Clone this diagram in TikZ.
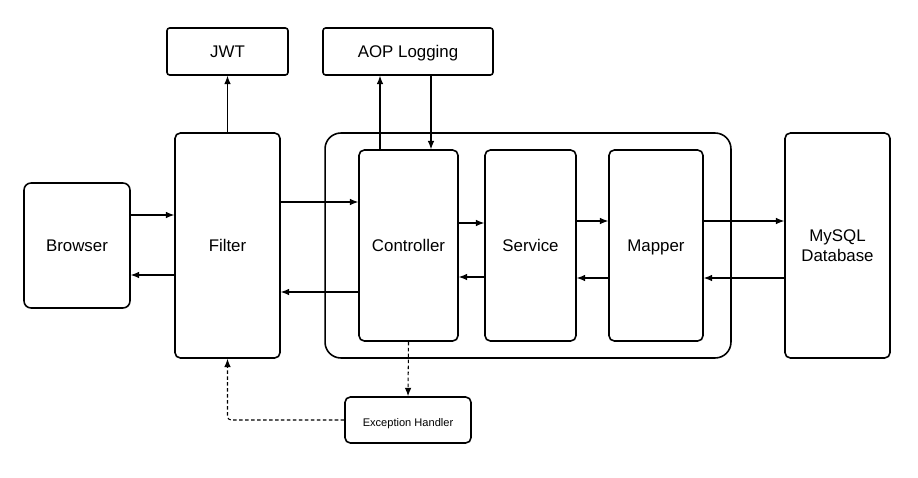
\documentclass[tikz,border=0pt]{standalone}
\usepackage{fontspec}
\setmainfont{Liberation Sans}
\usetikzlibrary{arrows.meta}
\begin{document}
\begin{tikzpicture}[x=0.02cm,y=-0.02cm,
  box/.style={draw,line width=0.9pt,rounded corners=3pt,align=center,inner sep=0pt,
    font=\fontsize{9.6}{11.5}\selectfont},
  oneline/.style={box,text height=0.72em,text depth=0pt},
  flow/.style={-{Latex[length=4.8pt,width=3.8pt]},line width=0.6pt},
  dotflow/.style={flow,dash pattern=on 2pt off 1.4pt}]
\useasboundingbox (0,0) rectangle (918,477);
% outer layer box
\node[draw,line width=0.9pt,rounded corners=9pt,minimum width=8.12cm,minimum height=4.5cm] (layers) at (528,245.5) {};
\node[oneline,minimum width=2.12cm,minimum height=2.5cm,rounded corners=4pt] (browser) at (77,245.5) {Browser};
\node[oneline,minimum width=2.1cm,minimum height=4.5cm] (filter) at (227.5,245.5) {Filter};
\node[oneline,minimum width=2.42cm,minimum height=0.94cm,rounded corners=1.5pt] (jwt) at (227.5,51.5) {JWT};
\node[oneline,minimum width=3.4cm,minimum height=0.94cm,rounded corners=1.5pt] (aop) at (408,51.5) {AOP Logging};
\node[oneline,minimum width=1.98cm,minimum height=3.82cm] (controller) at (408.5,245.5) {Controller};
\node[oneline,minimum width=1.82cm,minimum height=3.82cm] (service) at (530.5,245.5) {Service};
\node[oneline,minimum width=1.88cm,minimum height=3.82cm] (mapper) at (656,245.5) {Mapper};
\node[box,minimum width=2.1cm,minimum height=4.5cm] (mysql) at (837.5,245.5) {MySQL\\Database};
\node[oneline,minimum width=2.52cm,minimum height=0.92cm,font=\fontsize{6.3}{8}\selectfont] (handler) at (408,420) {Exception Handler};
% request / response
\draw[flow] (browser.east |- 0,215) -- (filter.west |- 0,215);
\draw[flow] (filter.west |- 0,275) -- (browser.east |- 0,275);
\draw[flow] (filter.east |- 0,202) -- (controller.west |- 0,202);
\draw[flow] (controller.west |- 0,292) -- (filter.east |- 0,292);
\draw[flow] (controller.east |- 0,223) -- (service.west |- 0,223);
\draw[flow] (service.west |- 0,277) -- (controller.east |- 0,277);
\draw[flow] (service.east |- 0,221) -- (mapper.west |- 0,221);
\draw[flow] (mapper.west |- 0,278) -- (service.east |- 0,278);
\draw[flow] (mapper.east |- 0,221) -- (mysql.west |- 0,221);
\draw[flow] (mysql.west |- 0,278) -- (mapper.east |- 0,278);
% jwt and aop
\draw[flow] (filter.north) -- (jwt.south);
\draw[flow] (controller.north -| 380,0) -- (aop.south -| 380,0);
\draw[flow] (aop.south -| 431,0) -- (controller.north -| 431,0);
% exceptions
\draw[dotflow] (controller.south) -- (handler.north);
\draw[dotflow,rounded corners=2pt] (handler.west) -| (filter.south);
\end{tikzpicture}
\end{document}
